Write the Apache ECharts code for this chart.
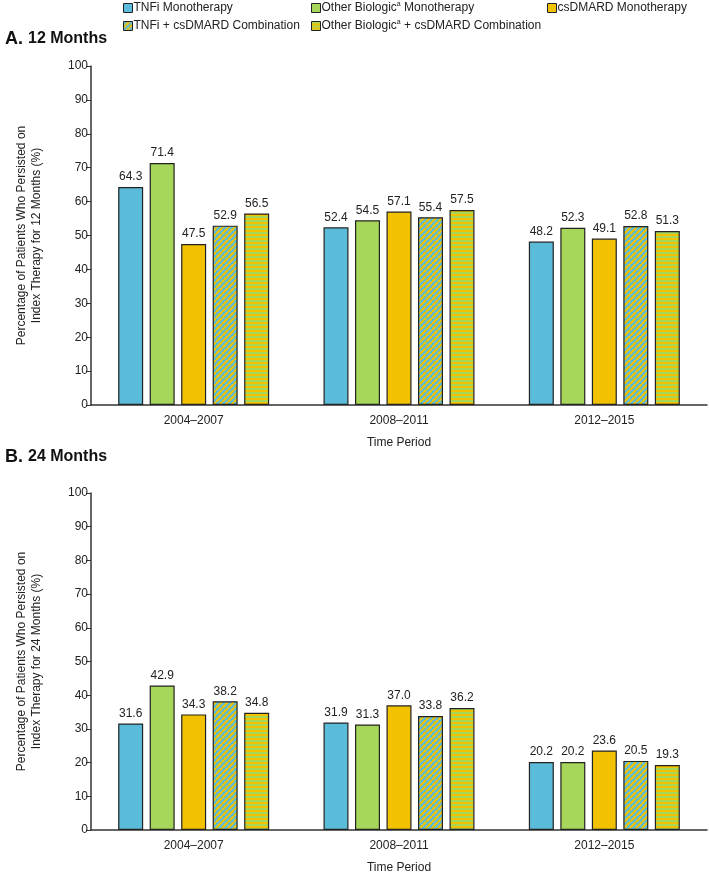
<!DOCTYPE html>
<html>
<head>
<meta charset="utf-8">
<script src="https://cdn.jsdelivr.net/npm/echarts@6/dist/echarts.min.js"></script>
<style>
html,body{margin:0;padding:0;background:#fff;}
#c{width:709px;height:877px;}
</style>
</head>
<body>
<div id="c"></div>
<script>
var categories = ['2004\u20132007', '2008\u20132011', '2012\u20132015'];
var seriesNames = ['TNFi Monotherapy', 'Other Biologic{sup|a} Monotherapy', 'csDMARD Monotherapy', 'TNFi + csDMARD Combination', 'Other Biologic{sup|a} + csDMARD Combination'];
var legendNames = ['TNFi Monotherapy', 'Other Biologic Monotherapy', 'csDMARD Monotherapy', 'TNFi + csDMARD Combination', 'Other Biologic + csDMARD Combination'];
// Panel A: 12 months
var a_tnfiMono = [64.3, 52.4, 48.2];
var a_otherMono = [71.4, 54.5, 52.3];
var a_csdmardMono = [47.5, 57.1, 49.1];
var a_tnfiCombo = [52.9, 55.4, 52.8];
var a_otherCombo = [56.5, 57.5, 51.3];
// Panel B: 24 months
var b_tnfiMono = [31.6, 31.9, 20.2];
var b_otherMono = [42.9, 31.3, 20.2];
var b_csdmardMono = [34.3, 37.0, 23.6];
var b_tnfiCombo = [38.2, 33.8, 20.5];
var b_otherCombo = [34.8, 36.2, 19.3];
var yTicks = [0, 10, 20, 30, 40, 50, 60, 70, 80, 90, 100];

var BLUE = '#5BBCDA', GREEN = '#A6D75A', YELLOW = '#F2C200';
var FONT = "'Liberation Sans', Arial, sans-serif";

function diagPattern(c1, c2) {
  var s = 6;
  var cv = document.createElement('canvas');
  cv.width = s; cv.height = s;
  var ctx = cv.getContext('2d');
  ctx.fillStyle = c1; ctx.fillRect(0, 0, s, s);
  ctx.strokeStyle = c2; ctx.lineWidth = 2.2;
  for (var k = -1; k <= 1; k++) {
    ctx.beginPath();
    ctx.moveTo(k * s, s);
    ctx.lineTo(k * s + s, 0);
    ctx.stroke();
  }
  return {image: cv, repeat: 'repeat'};
}
function horizPattern(c1, c2) {
  var cv = document.createElement('canvas');
  cv.width = 4; cv.height = 4;
  var ctx = cv.getContext('2d');
  ctx.fillStyle = c1; ctx.fillRect(0, 0, 4, 2);
  ctx.fillStyle = c2; ctx.fillRect(0, 2, 4, 2);
  return {image: cv, repeat: 'repeat'};
}
var fills = [BLUE, GREEN, YELLOW, diagPattern(BLUE, YELLOW), horizPattern(GREEN, YELLOW)];

function makeSeries(dataArr, idx) {
  return dataArr.map(function (d, i) {
    return {
      name: legendNames[i],
      type: 'bar',
      xAxisIndex: idx, yAxisIndex: idx,
      data: d,
      barWidth: 25,
      barGap: '26%',
      itemStyle: {color: fills[i], borderColor: '#222', borderWidth: 1.2},
      label: {
        show: true, position: 'top', distance: 4,
        fontFamily: FONT, fontSize: 12, color: '#222',
        formatter: function (p) { return p.value.toFixed(1); }
      }
    };
  });
}

var chart = echarts.init(document.getElementById('c'), null, {renderer: 'canvas'});

function xAxisCfg(gi) {
  return {
    type: 'category', gridIndex: gi, data: categories,
    axisLine: {lineStyle: {color: '#333', width: 1.5}},
    axisTick: {show: false},
    axisLabel: {fontFamily: FONT, fontSize: 12, color: '#222', margin: 10},
    name: 'Time Period', nameLocation: 'middle', nameGap: 32,
    nameTextStyle: {fontFamily: FONT, fontSize: 12, color: '#222'}
  };
}
function yAxisCfg(gi, months) {
  return {
    type: 'value', gridIndex: gi, min: 0, max: 100, interval: 10,
    axisLine: {show: true, lineStyle: {color: '#333', width: 1.5}},
    axisTick: {show: true, length: 5, lineStyle: {color: '#333'}},
    axisLabel: {fontFamily: FONT, fontSize: 12, color: '#222', margin: 3,
      formatter: function (v) { return yTicks.indexOf(v) >= 0 ? String(v) : ''; }},
    splitLine: {show: false},
    name: 'Percentage of Patients Who Persisted on\nIndex Therapy for ' + months + ' Months (%)',
    nameLocation: 'middle', nameGap: 47,
    nameTextStyle: {fontFamily: FONT, fontSize: 12, color: '#222', lineHeight: 15}
  };
}

var legendBase = {
  orient: 'vertical', top: 1, padding: 0, itemWidth: 9, itemHeight: 9, itemGap: 4, icon: 'rect',
  selectedMode: false,
  itemStyle: {borderColor: '#222', borderWidth: 1},
  textStyle: {fontFamily: FONT, fontSize: 12, color: '#222', lineHeight: 14, padding: [0, 0, 0, -4],
    rich: {sup: {fontFamily: FONT, fontSize: 7, verticalAlign: 'top', padding: [0, 0, 6, 0]}}}
};
function lg(left, data) {
  var o = JSON.parse(JSON.stringify(legendBase));
  o.left = left; o.data = data;
  o.formatter = function (name) { return seriesNames[legendNames.indexOf(name)]; };
  return o;
}
function titleText(t, top) {
  return {text: t, left: 0, top: top,
    textStyle: {rich: {big: {fontFamily: FONT, fontSize: 18, fontWeight: 'bold', color: '#111'},
      sm: {fontFamily: FONT, fontSize: 16, fontWeight: 'bold', color: '#111'}}}};
}

chart.setOption({
  backgroundColor: '#fff',
  animation: false,
  title: [
    titleText('{big|A.} {sm|12 Months}', 25),
    titleText('{big|B.} {sm|24 Months}', 443)
  ],
  legend: [
    lg(123, [legendNames[0], legendNames[3]]),
    lg(311, [legendNames[1], legendNames[4]]),
    lg(547, [legendNames[2]])
  ],
  grid: [
    {left: 91, top: 66, width: 616, height: 339},
    {left: 91, top: 493, width: 616, height: 337}
  ],
  xAxis: [xAxisCfg(0), xAxisCfg(1)],
  yAxis: [yAxisCfg(0, 12), yAxisCfg(1, 24)],
  series: makeSeries([a_tnfiMono, a_otherMono, a_csdmardMono, a_tnfiCombo, a_otherCombo], 0)
    .concat(makeSeries([b_tnfiMono, b_otherMono, b_csdmardMono, b_tnfiCombo, b_otherCombo], 1))
});
</script>
</body>
</html>
